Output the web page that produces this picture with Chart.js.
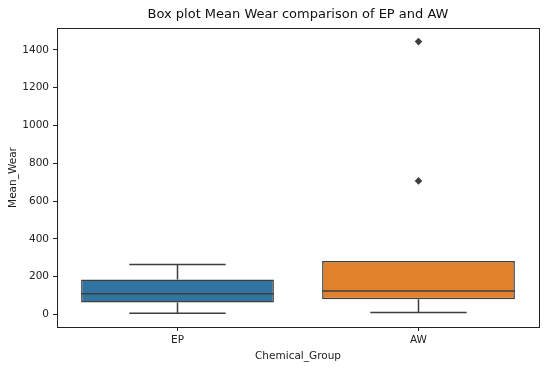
<!DOCTYPE html>
<html>
<head>
<meta charset="utf-8">
<script src="https://cdn.jsdelivr.net/npm/chart.js@4.4.1/dist/chart.umd.min.js"></script>
<style>
html,body{margin:0;padding:0;background:#fff;}
#wrap{width:550px;height:368px;}
</style>
</head>
<body>
<div id="wrap"><canvas id="c" width="550" height="368"></canvas></div>
<script>
const categories = ['EP', 'AW'];
const q1 = [64, 81];
const median = [110, 124];
const q3 = [185, 283];
const whiskerLow = [7, 11];
const whiskerHigh = [265, 283];
const outliersAW = [707, 1444];
const yTicks = [0, 200, 400, 600, 800, 1000, 1200, 1400];
const boxColors = ['#3274a1', '#e1812c'];

const edge = '#3f3f3f';
const capHalf = 0.2, boxHalf = 0.4;

const boxData = categories.map((c, i) => ({x: i, y: [q1[i], q3[i]]}));
const lineData = [];
categories.forEach((c, i) => {
  lineData.push({x: i, y: q1[i]}, {x: i, y: whiskerLow[i]}, {x: i, y: null});
  lineData.push({x: i, y: q3[i]}, {x: i, y: whiskerHigh[i]}, {x: i, y: null});
  lineData.push({x: i - capHalf, y: whiskerLow[i]}, {x: i + capHalf, y: whiskerLow[i]}, {x: i, y: null});
  if (whiskerHigh[i] > q3[i]) {
    lineData.push({x: i - capHalf, y: whiskerHigh[i]}, {x: i + capHalf, y: whiskerHigh[i]}, {x: i, y: null});
  }
  lineData.push({x: i - boxHalf, y: median[i]}, {x: i + boxHalf, y: median[i]}, {x: i, y: null});
});
const outlierData = outliersAW.map(v => ({x: 1, y: v}));

const frame = {
  id: 'frame',
  afterDraw(chart) {
    const a = chart.chartArea, ctx = chart.ctx;
    ctx.save();
    ctx.strokeStyle = '#222';
    ctx.lineWidth = 1;
    ctx.strokeRect(Math.round(a.left) + 0.5, Math.round(a.top) + 0.5, Math.round(a.right - a.left), Math.round(a.bottom - a.top));
    ctx.restore();
  }
};

new Chart(document.getElementById('c'), {
  data: {
    datasets: [
      {
        type: 'bar',
        data: boxData,
        backgroundColor: boxColors,
        borderColor: edge,
        borderWidth: 1.5,
        borderSkipped: false,
        barPercentage: 0.8,
        categoryPercentage: 1.0,
        order: 2
      },
      {
        type: 'line',
        data: lineData,
        borderColor: edge,
        borderWidth: 1.5,
        pointRadius: 0,
        spanGaps: false,
        fill: false,
        order: 1
      },
      {
        type: 'scatter',
        data: outlierData,
        pointStyle: 'rectRot',
        pointRadius: 3.8,
        backgroundColor: edge,
        borderColor: edge,
        borderWidth: 0,
        order: 0
      }
    ]
  },
  options: {
    responsive: false,
    animation: false,
    devicePixelRatio: 1,
    layout: {padding: {right: 11, left: 0, top: 0, bottom: 0}},
    plugins: {
      legend: {display: false},
      tooltip: {enabled: false},
      title: {
        display: true,
        fullSize: false,
        text: 'Box plot Mean Wear comparison of EP and AW',
        color: '#111',
        font: {family: 'DejaVu Sans', size: 13, weight: 'normal'},
        padding: {top: 7, bottom: 5.4}
      }
    },
    scales: {
      x: {
        type: 'linear',
        min: -0.5,
        max: 1.5,
        offset: false,
        afterBuildTicks: s => { s.ticks = categories.map((c, i) => ({value: i})); },
        afterFit: s => { s.height = 41; },
        ticks: {
          callback: v => categories[v],
          color: '#222',
          font: {family: 'DejaVu Sans', size: 10.5},
          padding: 3,
          maxRotation: 0
        },
        grid: {offset: false, drawOnChartArea: false, drawTicks: true, tickLength: 4, tickColor: '#222'},
        border: {display: false},
        title: {
          display: true,
          text: 'Chemical_Group',
          color: '#222',
          font: {family: 'DejaVu Sans', size: 10.5},
          padding: {top: 2, bottom: 5}
        }
      },
      y: {
        type: 'linear',
        min: -66,
        max: 1516,
        afterBuildTicks: s => { s.ticks = yTicks.map(v => ({value: v})); },
        afterFit: s => { s.width = 57; },
        ticks: {
          callback: v => String(v),
          color: '#222',
          font: {family: 'DejaVu Sans', size: 10.5},
          padding: 4
        },
        grid: {drawOnChartArea: false, drawTicks: true, tickLength: 4, tickColor: '#222'},
        border: {display: false},
        title: {
          display: true,
          text: 'Mean_Wear',
          color: '#222',
          font: {family: 'DejaVu Sans', size: 10.5},
          padding: {top: 7, bottom: 2}
        }
      }
    }
  },
  plugins: [frame]
});
</script>
</body>
</html>
